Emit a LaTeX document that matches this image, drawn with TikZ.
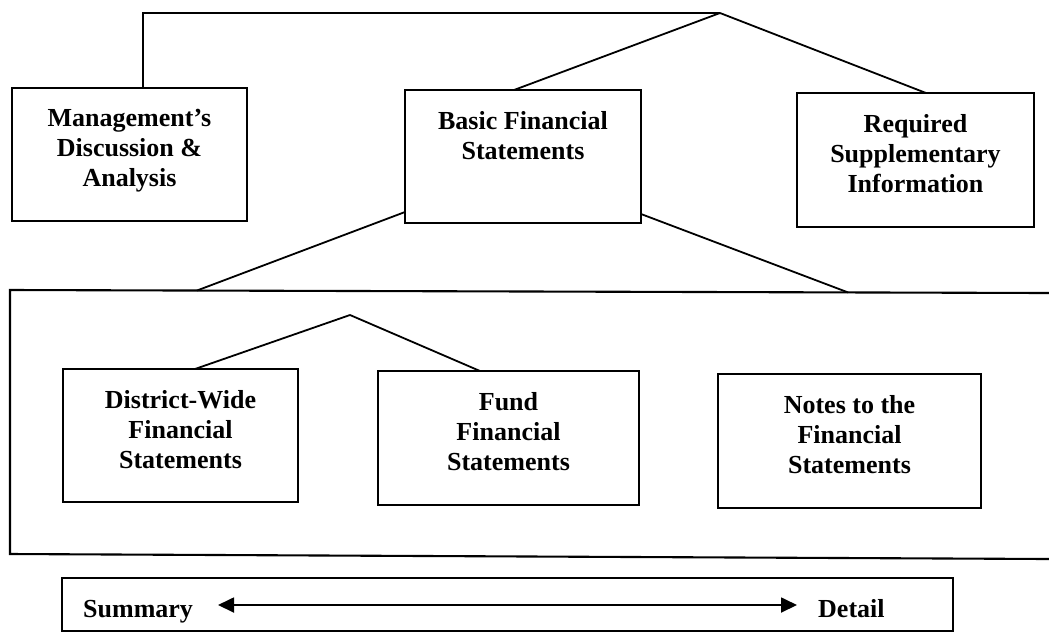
\documentclass[tikz,border=0pt]{standalone}
\usepackage{fontspec}
\setmainfont{Liberation Serif}
\usetikzlibrary{arrows.meta}
\tikzset{scaletip/.tip={Triangle[length=16pt,width=15pt]}}
\begin{document}
\begin{tikzpicture}[x=1pt,y=-1pt,
  box/.style={draw, line width=2.1pt, inner sep=0pt, outer sep=0pt},
  txt/.style={font=\fontsize{26}{30}\selectfont\bfseries, align=center, inner sep=0pt, anchor=north},
  conn/.style={line width=1.8pt},
  lbl/.style={font=\fontsize{26}{30}\selectfont\bfseries, inner sep=0pt, anchor=base west}]
\useasboundingbox (0,0) rectangle (1049,633);

% top-level boxes
\node[box, minimum width=235pt, minimum height=133pt] (mda) at (129.5,154.5) {};
\node[box, minimum width=236pt, minimum height=133pt] (bfs) at (523,156.5) {};
\node[box, minimum width=237pt, minimum height=134pt] (rsi) at (915.5,160) {};
\node[txt] (mdat) at ([yshift=-21pt]mda.north) {Management’s\\Discussion \&\\Analysis};
\node[txt] (bfst) at ([yshift=-21pt]bfs.north) {Basic Financial\\Statements};
\node[txt] (rsit) at ([yshift=-21pt]rsi.north) {Required\\Supplementary\\Information};

% top connectors
\coordinate (apex) at (720,13);
\draw[conn] ([xshift=131pt]mda.north west) |- (apex);
\draw[conn] (apex) -- ([xshift=-9pt]bfs.north);
\draw[conn] (apex) -- ([xshift=10.5pt]rsi.north);

% panel of basic financial statements
\coordinate (pTL) at (10,290);
\coordinate (pBL) at (10,554);
\coordinate (pTR) at (1049,293);
\coordinate (pBR) at (1049,559);
\draw[box] (pTR) -- (pTL) -- (pBL) -- (pBR);
\coordinate (pL) at (197,290.5);
\coordinate (pR) at (848,292.4);
\draw[conn] ([yshift=11pt]bfs.south west) -- (pL);
\draw[conn] ([yshift=9pt]bfs.south east) -- (pR);

% inner boxes
\node[box, minimum width=235pt, minimum height=133pt] (dw) at (180.5,435.5) {};
\node[box, minimum width=261pt, minimum height=134pt] (fund) at (508.5,438) {};
\node[box, minimum width=263pt, minimum height=134pt] (notes) at (849.5,441) {};
\node[txt] (dwt) at ([yshift=-21pt]dw.north) {District-Wide\\Financial\\Statements};
\node[txt] (fundt) at ([yshift=-21pt]fund.north) {Fund\\Financial\\Statements};
\node[txt] (notest) at ([yshift=-21pt]notes.north) {Notes to the\\Financial\\Statements};

\coordinate (iapex) at (350,315);
\draw[conn] (iapex) -- ([xshift=14.5pt]dw.north);
\draw[conn] (iapex) -- ([xshift=-28.5pt]fund.north);

% summary / detail scale
\node[box, minimum width=891pt, minimum height=53pt] (scale) at (507.5,604.5) {};
\node[lbl] (sum) at (83,617) {Summary};
\node[lbl] (det) at (818,617) {Detail};
\coordinate (aL) at (218,605);
\coordinate (aR) at (797,605);
\draw[conn, scaletip-scaletip] (aL) -- (aR);
\end{tikzpicture}
\end{document}
